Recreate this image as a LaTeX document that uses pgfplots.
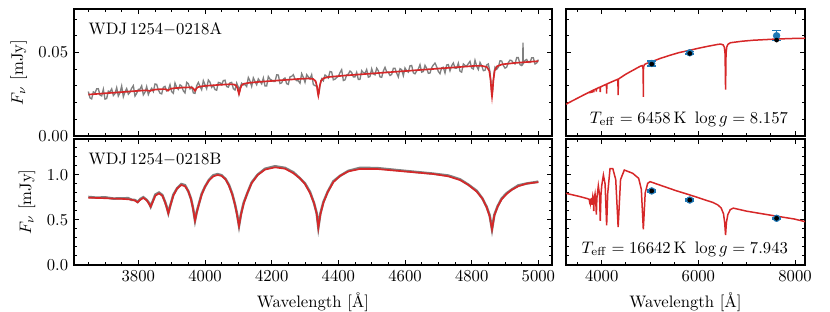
\documentclass[border=0pt]{standalone}
\usepackage{pgfplots}
\pgfplotsset{compat=1.18}
\definecolor{mred}{RGB}{214,39,40}
\definecolor{mblue}{RGB}{31,119,180}
\definecolor{mgray}{RGB}{128,128,128}
\pgfplotsset{
  panel/.style={scale only axis, anchor=south west,
    axis line style={line width=0.7pt}, tick style={line width=0.6pt, black},
    major tick length=3.2pt, minor tick length=1.8pt, tick align=inside, tick pos=both,
    scaled ticks=false, /pgf/number format/1000 sep={}, clip=true},
  leftx/.style={xmin=3607, xmax=5041, xtick={3800,4000,...,5000}, minor xtick={3650,3700,...,5000}},
  rightx/.style={xmin=3261, xmax=8207, xtick={4000,6000,8000}, minor xtick={3500,4000,...,8000}},
  topy/.style={ymin=0, ymax=0.076, ytick={0,0.05}, minor ytick={0.01,0.02,0.03,0.04,0.06,0.07},
    yticklabel style={/pgf/number format/.cd,fixed,fixed zerofill,precision=2}},
  boty/.style={ymin=0, ymax=1.4, ytick={0,0.5,1.0}, minor ytick={0.1,0.2,0.3,0.4,0.6,0.7,0.8,0.9,1.1,1.2,1.3},
    yticklabel style={/pgf/number format/.cd,fixed,fixed zerofill,precision=1}},
  phot/.style={mblue, only marks, mark=*, mark size=2pt,
    error bars/.cd, y dir=both, y explicit,
    error bar style={line width=0.9pt, mblue},
    error mark options={mblue, line width=0.9pt, mark size=2.6pt, rotate=90}},
}
\begin{document}
\begin{tikzpicture}
\useasboundingbox (0,0) rectangle (498pt,187.2pt);
% ---------------- top left
\begin{axis}[panel, leftx, topy, at={(44.4pt,105.6pt)}, width=286.8pt, height=76.2pt,
  xticklabels={}, ylabel={$F_\nu$ [mJy]}]
\addplot[mgray, line width=0.8pt] table {
3650 0.0266
3655 0.0228
3660 0.0222
3665 0.0264
3670 0.0257
3675 0.0282
3680 0.0283
3685 0.0245
3690 0.0240
3695 0.0280
3700 0.0221
3705 0.0224
3710 0.0269
3715 0.0264
3720 0.0282
3725 0.0242
3730 0.0254
3735 0.0289
3740 0.0239
3745 0.0259
3750 0.0299
3755 0.0235
3760 0.0265
3765 0.0284
3770 0.0250
3775 0.0262
3780 0.0286
3785 0.0301
3790 0.0239
3795 0.0255
3800 0.0279
3805 0.0280
3810 0.0300
3815 0.0246
3820 0.0262
3825 0.0296
3830 0.0248
3835 0.0271
3840 0.0286
3845 0.0266
3850 0.0311
3855 0.0309
3860 0.0276
3865 0.0256
3870 0.0252
3875 0.0291
3880 0.0297
3885 0.0270
3890 0.0276
3895 0.0307
3900 0.0265
3905 0.0256
3910 0.0317
3915 0.0291
3920 0.0279
3925 0.0306
3930 0.0299
3935 0.0270
3940 0.0258
3945 0.0321
3950 0.0313
3955 0.0282
3960 0.0294
3965 0.0258
3970 0.0255
3975 0.0301
3980 0.0321
3985 0.0297
3990 0.0277
3995 0.0331
4000 0.0307
4005 0.0283
4010 0.0335
4015 0.0322
4020 0.0291
4025 0.0302
4030 0.0278
4035 0.0274
4040 0.0321
4045 0.0318
4050 0.0307
4055 0.0332
4060 0.0334
4065 0.0296
4070 0.0292
4075 0.0318
4080 0.0321
4085 0.0283
4090 0.0275
4095 0.0317
4100 0.0292
4102 0.0256
4105 0.0289
4110 0.0316
4115 0.0306
4120 0.0308
4125 0.0296
4130 0.0350
4135 0.0329
4140 0.0297
4145 0.0348
4150 0.0326
4155 0.0307
4160 0.0342
4165 0.0327
4170 0.0312
4175 0.0347
4180 0.0299
4185 0.0299
4190 0.0356
4195 0.0340
4200 0.0335
4205 0.0326
4210 0.0326
4215 0.0366
4220 0.0365
4225 0.0314
4230 0.0318
4235 0.0340
4240 0.0347
4245 0.0313
4250 0.0309
4255 0.0354
4260 0.0357
4265 0.0367
4270 0.0341
4275 0.0331
4280 0.0330
4285 0.0316
4290 0.0373
4295 0.0351
4300 0.0321
4305 0.0367
4310 0.0354
4315 0.0342
4320 0.0367
4325 0.0308
4330 0.0301
4336 0.0298
4338 0.0268
4340 0.0246
4342 0.0260
4345 0.0305
4350 0.0342
4355 0.0330
4360 0.0365
4365 0.0357
4370 0.0347
4375 0.0386
4380 0.0383
4385 0.0336
4390 0.0340
4395 0.0350
4400 0.0357
4405 0.0379
4410 0.0397
4415 0.0332
4420 0.0336
4425 0.0365
4430 0.0370
4435 0.0389
4440 0.0380
4445 0.0354
4450 0.0354
4455 0.0381
4460 0.0338
4465 0.0339
4470 0.0391
4475 0.0379
4480 0.0375
4485 0.0398
4490 0.0352
4495 0.0356
4500 0.0402
4505 0.0372
4510 0.0366
4515 0.0406
4520 0.0390
4525 0.0354
4530 0.0351
4535 0.0389
4540 0.0411
4545 0.0384
4550 0.0381
4555 0.0362
4560 0.0368
4565 0.0405
4570 0.0405
4575 0.0376
4580 0.0353
4585 0.0403
4590 0.0397
4595 0.0361
4600 0.0407
4605 0.0390
4610 0.0382
4615 0.0420
4620 0.0422
4625 0.0378
4630 0.0372
4635 0.0389
4640 0.0401
4645 0.0427
4650 0.0382
4655 0.0386
4660 0.0423
4665 0.0405
4670 0.0375
4675 0.0377
4680 0.0409
4685 0.0425
4690 0.0436
4695 0.0415
4700 0.0386
4705 0.0373
4710 0.0408
4715 0.0411
4720 0.0377
4725 0.0425
4730 0.0427
4735 0.0390
4740 0.0421
4745 0.0437
4750 0.0406
4755 0.0406
4760 0.0436
4765 0.0388
4770 0.0382
4775 0.0431
4780 0.0422
4785 0.0419
4790 0.0433
4795 0.0447
4800 0.0407
4805 0.0401
4810 0.0453
4815 0.0418
4820 0.0398
4825 0.0440
4830 0.0421
4835 0.0391
4840 0.0393
4845 0.0425
4850 0.0431
4855 0.0383
4858 0.0315
4861 0.0242
4864 0.0308
4867 0.0376
4870 0.0412
4875 0.0399
4880 0.0412
4885 0.0450
4890 0.0449
4895 0.0422
4900 0.0406
4905 0.0412
4910 0.0439
4915 0.0454
4920 0.0451
4925 0.0437
4930 0.0431
4935 0.0469
4940 0.0469
4945 0.0427
4950 0.0422
4953 0.0445
4954 0.0558
4955 0.0435
4960 0.0452
4965 0.0458
4970 0.0440
4975 0.0440
4980 0.0468
4985 0.0468
4990 0.0431
4995 0.0437
5000 0.0457
};
\addplot[mred, line width=1pt] table {
3650 0.02480
3700 0.02554
3750 0.02628
3800 0.02702
3820 0.02732
3830 0.02716
3835 0.02694
3840 0.02731
3850 0.02776
3870 0.02804
3880 0.02806
3885 0.02768
3889 0.02714
3893 0.02780
3898 0.02832
3910 0.02865
3930 0.02894
3955 0.02914
3962 0.02892
3966 0.02823
3968 0.02751
3970 0.02704
3972 0.02757
3974 0.02835
3978 0.02915
3985 0.02959
4000 0.02998
4040 0.03057
4072 0.03094
4087 0.03085
4094 0.03011
4098 0.02828
4100 0.02642
4102 0.02519
4104 0.02648
4106 0.02840
4110 0.03035
4117 0.03129
4132 0.03182
4160 0.03235
4200 0.03294
4250 0.03368
4290 0.03427
4310 0.03439
4325 0.03408
4332 0.03273
4336 0.02955
4338 0.02634
4340 0.02421
4342 0.02640
4344 0.02967
4348 0.03297
4355 0.03452
4370 0.03528
4420 0.03620
4500 0.03738
4600 0.03886
4700 0.04034
4780 0.04152
4810 0.04196
4831 0.04196
4846 0.04125
4853 0.03880
4857 0.03316
4859 0.02749
4861 0.02372
4863 0.02755
4865 0.03328
4869 0.03904
4876 0.04169
4891 0.04285
4931 0.04375
4960 0.04418
5000 0.04478
};
\node[anchor=base west, inner sep=0pt] at (axis description cs:0.03,0.80) {WDJ\,1254$-$0218A};
\end{axis}
% ---------------- top right
\begin{axis}[panel, rightx, topy, at={(339.6pt,105.6pt)}, width=143.4pt, height=76.2pt,
  xticklabels={}, yticklabels={}]
\addplot[mred, line width=0.9pt] table {
3261 0.0190
3350 0.0204
3450 0.0219
3550 0.0234
3650 0.0249
3720 0.0259
3748 0.0263
3750 0.0256
3752 0.0264
3769 0.0266
3771 0.0257
3773 0.0267
3795 0.0270
3798 0.0258
3801 0.0271
3832 0.0275
3835 0.0262
3838 0.0276
3884 0.0282
3889 0.0266
3894 0.0283
3940 0.0290
3962 0.0292
3967 0.0287
3970 0.0262
3973 0.0288
3978 0.0294
4050 0.0304
4092 0.0309
4098 0.0304
4102 0.0254
4106 0.0305
4112 0.0312
4230 0.0327
4328 0.0339
4335 0.0333
4340 0.0244
4345 0.0335
4352 0.0342
4500 0.0370
4700 0.0402
4801 0.0418
4836 0.0421
4851 0.0412
4858 0.0395
4861 0.0234
4864 0.0398
4871 0.0418
4886 0.0428
4921 0.0433
5000 0.0441
5200 0.0463
5400 0.0482
5600 0.0499
5806 0.0512
6000 0.0525
6200 0.0537
6400 0.0548
6463 0.0550
6513 0.0545
6538 0.0531
6553 0.0492
6563 0.0278
6573 0.0494
6588 0.0533
6613 0.0549
6663 0.0558
6900 0.0567
7137 0.0573
7600 0.0580
8000 0.0584
8207 0.0585
};
\addplot[phot] table[y error=e] {
x y e
5035 0.0434 0.0015
5822 0.0498 0.0008
7619 0.0600 0.0030
};
\addplot[black, only marks, mark=*, mark size=1.2pt] table {
5035 0.0430
5822 0.0494
7619 0.0574
};
\node[anchor=base east, inner sep=0pt] at (axis description cs:0.93,0.10) {$T_{\mathrm{eff}} = 6458\,\mathrm{K}\ \log g = 8.157$};
\end{axis}
% ---------------- bottom left
\begin{axis}[panel, leftx, boty, at={(44.4pt,28.2pt)}, width=286.8pt, height=75.6pt,
  ylabel={$F_\nu$ [mJy]}, xlabel={Wavelength [\AA]}]
\addplot[mgray, line width=1.5pt] table[x=lam, y=g] {
lam f g
3650 0.748 0.756
3675 0.745 0.748
3700 0.742 0.752
3725 0.738 0.738
3750 0.735 0.741
3770 0.730 0.742
3780 0.726 0.724
3790 0.715 0.722
3798 0.696 0.700
3806 0.725 0.734
3815 0.745 0.753
3825 0.720 0.723
3832 0.680 0.690
3837 0.648 0.648
3843 0.700 0.706
3851 0.770 0.782
3862 0.795 0.805
3872 0.770 0.777
3880 0.700 0.704
3885 0.640 0.649
3890 0.574 0.578
3896 0.660 0.663
3905 0.770 0.780
3916 0.850 0.850
3929 0.889 0.899
3940 0.875 0.887
3950 0.820 0.818
3958 0.730 0.737
3964 0.630 0.634
3970 0.493 0.495
3975 0.580 0.588
3982 0.680 0.683
3990 0.780 0.790
4000 0.870 0.870
4012 0.940 0.946
4025 0.985 0.997
4038 1.000 1.010
4050 0.990 0.997
4062 0.950 0.954
4072 0.880 0.889
4082 0.780 0.788
4090 0.670 0.673
4096 0.560 0.570
4102 0.433 0.435
4108 0.560 0.566
4116 0.680 0.692
4127 0.800 0.798
4140 0.910 0.917
4158 1.000 1.004
4180 1.060 1.069
4210 1.085 1.097
4240 1.070 1.079
4265 1.020 1.030
4285 0.963 0.963
4300 0.900 0.906
4315 0.800 0.812
4327 0.690 0.688
4335 0.570 0.577
4340 0.415 0.417
4346 0.560 0.569
4355 0.690 0.698
4368 0.810 0.813
4385 0.920 0.930
4405 0.990 0.990
4430 1.040 1.046
4465 1.067 1.079
4515 1.067 1.077
4585 1.044 1.051
4685 1.011 1.015
4730 0.985 0.994
4765 0.944 0.952
4790 0.890 0.893
4815 0.815 0.825
4832 0.740 0.740
4845 0.640 0.646
4854 0.540 0.552
4861 0.395 0.397
4868 0.550 0.557
4878 0.650 0.654
4890 0.730 0.739
4905 0.790 0.798
4920 0.835 0.838
4940 0.875 0.885
4965 0.905 0.905
5000 0.920 0.926
};
\addplot[mred, line width=1pt] table[x=lam, y=f] {
lam f
3650 0.748
3675 0.745
3700 0.742
3725 0.738
3750 0.735
3770 0.730
3780 0.726
3790 0.715
3798 0.696
3806 0.725
3815 0.745
3825 0.720
3832 0.680
3837 0.648
3843 0.700
3851 0.770
3862 0.795
3872 0.770
3880 0.700
3885 0.640
3890 0.574
3896 0.660
3905 0.770
3916 0.850
3929 0.889
3940 0.875
3950 0.820
3958 0.730
3964 0.630
3970 0.493
3975 0.580
3982 0.680
3990 0.780
4000 0.870
4012 0.940
4025 0.985
4038 1.000
4050 0.990
4062 0.950
4072 0.880
4082 0.780
4090 0.670
4096 0.560
4102 0.433
4108 0.560
4116 0.680
4127 0.800
4140 0.910
4158 1.000
4180 1.060
4210 1.085
4240 1.070
4265 1.020
4285 0.963
4300 0.900
4315 0.800
4327 0.690
4335 0.570
4340 0.415
4346 0.560
4355 0.690
4368 0.810
4385 0.920
4405 0.990
4430 1.040
4465 1.067
4515 1.067
4585 1.044
4685 1.011
4730 0.985
4765 0.944
4790 0.890
4815 0.815
4832 0.740
4845 0.640
4854 0.540
4861 0.395
4868 0.550
4878 0.650
4890 0.730
4905 0.790
4920 0.835
4940 0.875
4965 0.905
5000 0.920
};
\node[anchor=base west, inner sep=0pt] at (axis description cs:0.03,0.80) {WDJ\,1254$-$0218B};
\end{axis}
% ---------------- bottom right
\begin{axis}[panel, rightx, boty, at={(339.6pt,28.2pt)}, width=143.4pt, height=75.6pt,
  yticklabels={}, xlabel={Wavelength [\AA]}]
\addplot[mred, line width=0.9pt] table {
3261 0.796
3400 0.779
3550 0.760
3700 0.738
3740 0.730
3746 0.712
3750 0.725
3762 0.728
3768 0.700
3774 0.730
3788 0.735
3795 0.690
3800 0.668
3806 0.720
3815 0.760
3826 0.720
3835 0.600
3845 0.740
3862 0.790
3878 0.700
3889 0.560
3900 0.740
3930 0.880
3955 0.780
3970 0.490
3985 0.780
4000 0.880
4035 1.000
4070 0.900
4102 0.440
4125 0.800
4172 1.070
4230 1.070
4290 0.950
4340 0.420
4390 0.950
4468 1.055
4641 1.019
4765 0.963
4820 0.840
4861 0.396
4900 0.800
4951 0.907
5000 0.926
5537 0.826
5827 0.778
6310 0.693
6400 0.668
6470 0.635
6520 0.570
6545 0.470
6563 0.333
6580 0.470
6610 0.560
6660 0.615
6723 0.632
7000 0.598
7500 0.553
7985 0.511
8207 0.482
};
\addplot[phot] table[y error=e] {
x y e
5035 0.823 0.012
5822 0.722 0.010
7619 0.519 0.010
};
\addplot[black, only marks, mark=*, mark size=1.2pt] table {
5035 0.823
5822 0.722
7619 0.519
};
\node[anchor=base east, inner sep=0pt] at (axis description cs:0.93,0.095) {$T_{\mathrm{eff}} = 16642\,\mathrm{K}\ \log g = 7.943$};
\end{axis}
\end{tikzpicture}
\end{document}
